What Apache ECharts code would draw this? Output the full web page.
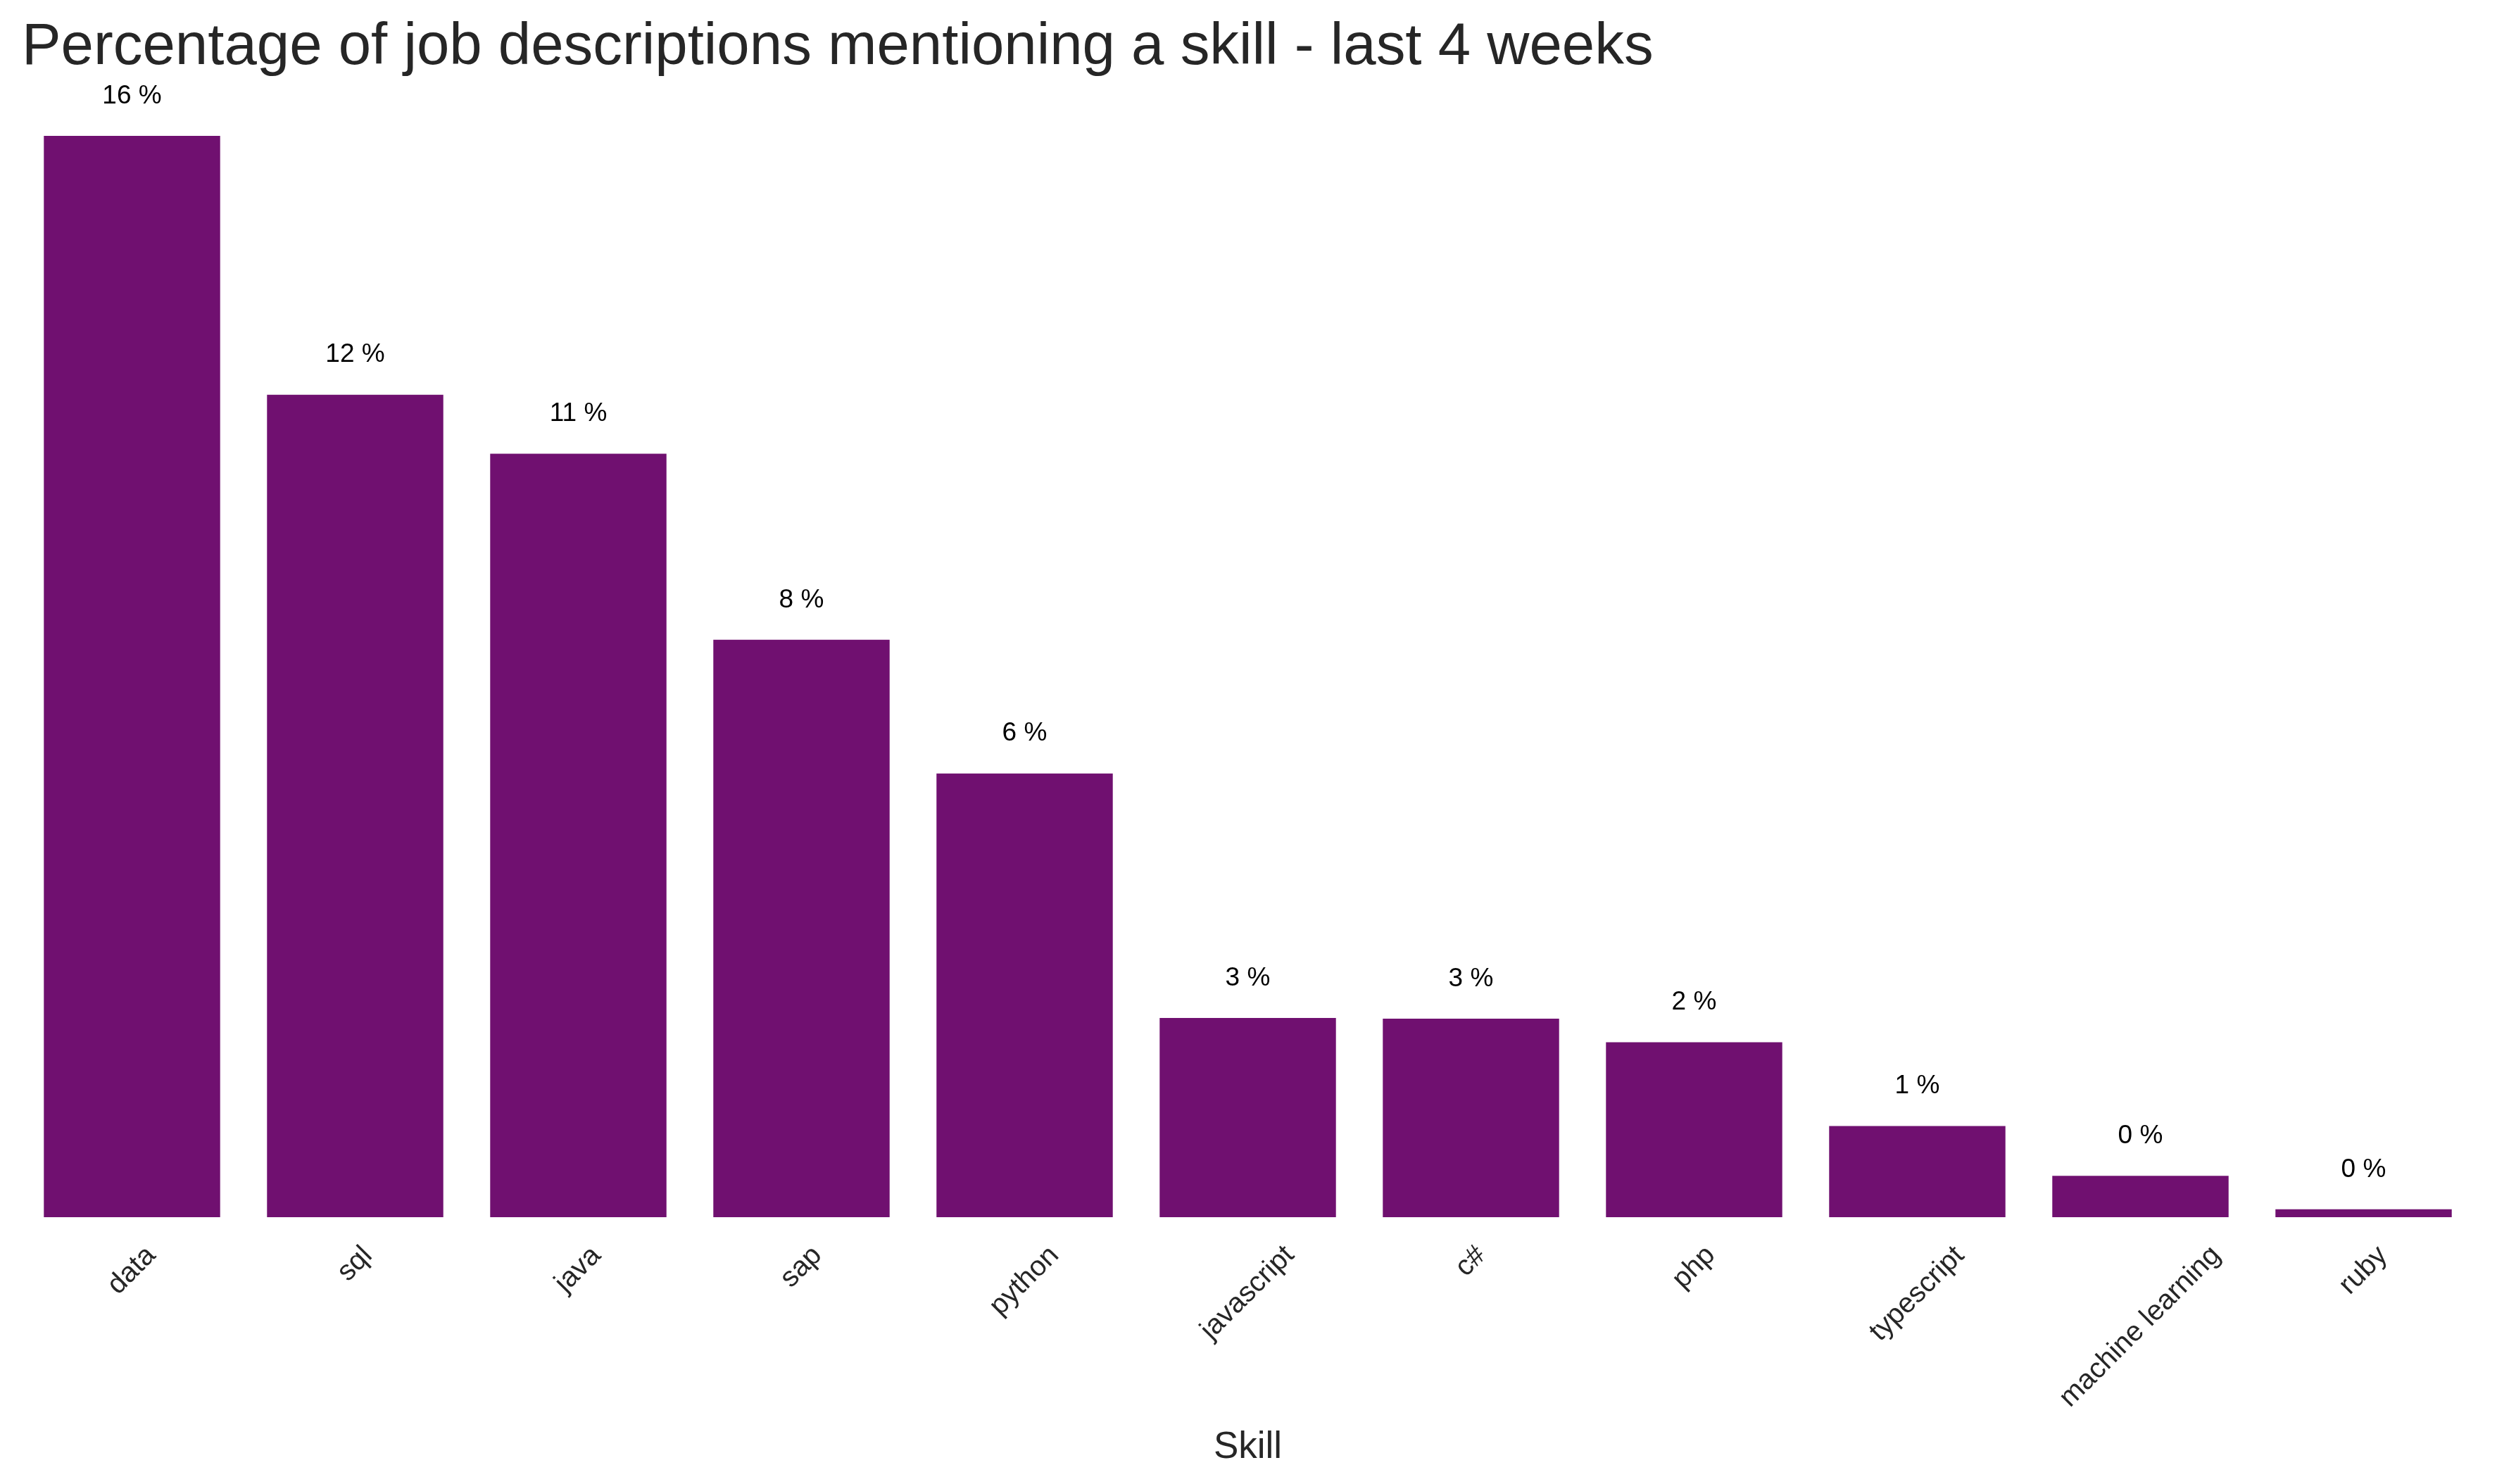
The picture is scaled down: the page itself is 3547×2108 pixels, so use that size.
<!DOCTYPE html>
<html>
<head>
<meta charset="utf-8">
<script src="https://cdn.jsdelivr.net/npm/echarts@6/dist/echarts.min.js"></script>
<style>
  html, body { margin: 0; padding: 0; background: #ffffff; }
  #chart { width: 3547px; height: 2108px; }
</style>
</head>
<body>
<div id="chart"></div>
<script>
// ---- data ----
const titleText = 'Percentage of job descriptions mentioning a skill - last 4 weeks';
const xAxisName = 'Skill';
const skills = ['data', 'sql', 'java', 'sap', 'python', 'javascript', 'c#', 'php', 'typescript', 'machine learning', 'ruby'];
const percentages = [16.5, 12.55, 11.65, 8.81, 6.77, 3.04, 3.03, 2.67, 1.39, 0.63, 0.12];

// ---- styling ----
const FONT = '"Liberation Sans", Arial, Helvetica, sans-serif';
const TICK_SIZE = 40;
const BAR_COLOR = '#701070';
const TEXT_DARK = '#262626';

// measure label widths so rotated labels are centred under their ticks (matplotlib style)
const ctx = document.createElement('canvas').getContext('2d');
ctx.font = TICK_SIZE + 'px ' + FONT;
const categoryData = skills.map(function (s) {
  const w = ctx.measureText(s).width;
  const p = Math.round(w * 0.5);
  return {
    value: s,
    textStyle: {
      align: 'center',
      verticalAlign: 'top',
      lineHeight: TICK_SIZE + p,
      padding: [0, p + TICK_SIZE, 0, 0],
      fontFamily: FONT,
      fontSize: TICK_SIZE,
      color: TEXT_DARK
    }
  };
});

const chart = echarts.init(document.getElementById('chart'), null, { renderer: 'canvas' });
chart.setOption({
  backgroundColor: '#ffffff',
  animation: false,
  title: {
    text: titleText,
    left: 26,
    top: 21,
    textStyle: { fontFamily: FONT, fontSize: 83.4, fontWeight: 'normal', color: TEXT_DARK }
  },
  grid: { left: 29, right: 31, top: 193, bottom: 379, containLabel: false, outerBoundsMode: 'none' },
  xAxis: {
    type: 'category',
    data: categoryData,
    name: xAxisName,
    nameLocation: 'middle',
    nameGap: 301,
    nameMoveOverlap: false,
    nameTextStyle: { fontFamily: FONT, fontSize: 53, color: TEXT_DARK },
    axisLine: { show: false },
    axisTick: { show: false },
    splitLine: { show: false },
    axisLabel: {
      interval: 0,
      rotate: 45,
      margin: 20,
      hideOverlap: false,
      fontFamily: FONT,
      fontSize: TICK_SIZE,
      color: TEXT_DARK
    }
  },
  yAxis: {
    type: 'value',
    min: 0,
    max: Math.max.apply(null, percentages),
    show: false,
    splitLine: { show: false }
  },
  series: [{
    type: 'bar',
    data: percentages,
    barCategoryGap: '21%',
    itemStyle: { color: BAR_COLOR },
    label: {
      show: true,
      position: 'top',
      distance: 38,
      fontFamily: FONT,
      fontSize: 37,
      color: '#000000',
      formatter: function (p) { return Math.floor(p.value) + ' %'; }
    }
  }]
});
</script>
</body>
</html>
